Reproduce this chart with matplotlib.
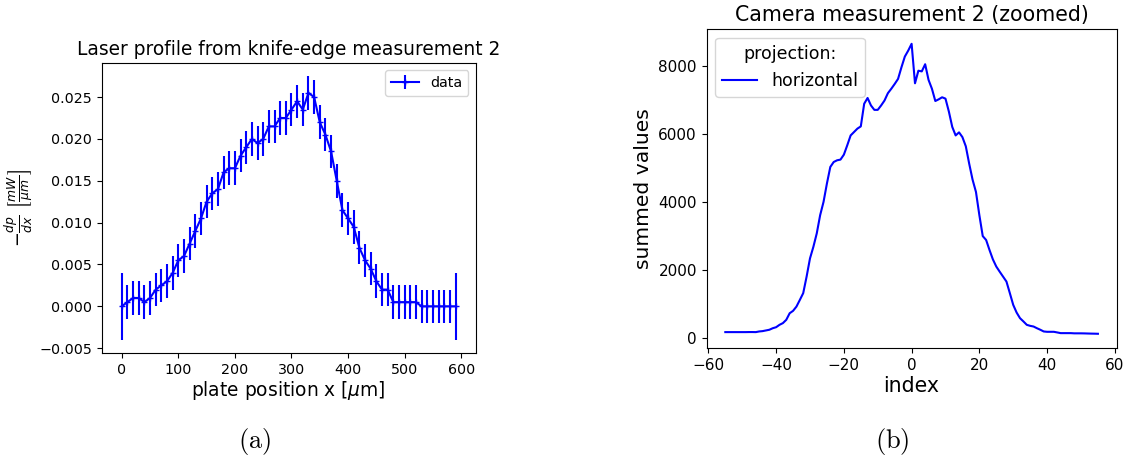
import matplotlib
matplotlib.use("Agg")
import matplotlib.pyplot as plt
import numpy as np

# Knife-edge derivative profile
plate_x = [0, 10, 20, 30, 40, 50, 60, 70, 80, 90,
           100, 110, 120, 130, 140, 150, 160, 170, 180, 190,
           200, 210, 220, 230, 240, 250, 260, 270, 280, 290,
           300, 310, 320, 330, 340, 350, 360, 370, 380, 390,
           400, 410, 420, 430, 440, 450, 460, 470, 480, 490,
           500, 510, 520, 530, 540, 550, 560, 570, 580, 590]
dpdx = [0.0, 0.0005, 0.001, 0.001, 0.0005, 0.001, 0.002, 0.0025, 0.003, 0.004,
        0.0055, 0.006, 0.0075, 0.009, 0.0105, 0.0125, 0.0135, 0.014, 0.016, 0.0165,
        0.0165, 0.018, 0.019, 0.02, 0.0195, 0.02, 0.0215, 0.0215, 0.0225, 0.0225,
        0.0235, 0.0245, 0.0235, 0.0255, 0.025, 0.022, 0.0205, 0.0185, 0.015, 0.0115,
        0.0105, 0.0095, 0.007, 0.0055, 0.0045, 0.003, 0.002, 0.002, 0.0005, 0.0005,
        0.0005, 0.0005, 0.0005, 0.0, 0.0, 0.0, 0.0, 0.0, 0.0, 0.0]
dpdx_err = [0.004] + [0.002] * 58 + [0.004]

# Camera projection (horizontal)
pixel_index = list(range(-55, 56))
summed = [176, 176, 176, 176, 176, 176, 176, 178, 178, 176,
          195, 205, 225, 245, 290, 320, 390, 440, 537, 730,
          800, 925, 1120, 1320, 1805, 2340, 2680, 3075, 3610, 4000,
          4540, 5025, 5170, 5220, 5240, 5385, 5660, 5950, 6050, 6150,
          6215, 6880, 7050, 6830, 6700, 6700, 6830, 6975, 7190, 7320,
          7460, 7610, 7950, 8265, 8440, 8640, 7480, 7850, 7830, 8040,
          7580, 7320, 6960, 7010, 7070, 7030, 6650, 6200, 5950, 6040,
          5900, 5630, 5120, 4650, 4290, 3610, 2995, 2880, 2585, 2310,
          2100, 1950, 1805, 1660, 1320, 975, 750, 585, 490, 390,
          360, 340, 290, 245, 195, 185, 185, 185, 166, 146,
          146, 146, 146, 140, 140, 140, 138, 135, 132, 130,
          127]

fig = plt.figure(figsize=(11.26, 4.57), dpi=100)

ax1 = fig.add_axes([0.0903, 0.2276, 0.3321, 0.6346])
ax1.errorbar(plate_x, dpdx, yerr=dpdx_err, fmt='-+', color='b',
             lw=1.5, elinewidth=1.5, markersize=5, label='data')
ax1.set_xlim(-35.5, 625.5)
ax1.set_title('Laser profile from knife-edge measurement 2', fontsize=13.4)
ax1.set_xlabel(r'plate position x [$\mu$m]', fontsize=13.4, labelpad=2)
ax1.set_ylabel(r'$-\frac{dp}{dx}\ \left[\frac{mW}{\mu m}\right]$', fontsize=12.8,
               labelpad=3)
ax1.tick_params(labelsize=10.3)
ax1.legend(loc='upper right', fontsize=10.3)

ax2 = fig.add_axes([0.6276, 0.2379, 0.364, 0.698])
ax2.plot(pixel_index, summed, color='b', lw=1.5, label='horizontal')
ax2.set_title('Camera measurement 2 (zoomed)', fontsize=14.8)
ax2.set_xlabel('index', fontsize=14.8, labelpad=2)
ax2.set_ylabel('summed values', fontsize=14.6)
ax2.tick_params(labelsize=11)
ax2.legend(loc='upper left', title='projection:', fontsize=12.5,
           title_fontsize=12.5)

fig.text(0.226, 0.035, r'$\mathrm{(a)}$', ha='center', va='center',
         fontsize=19, math_fontfamily='cm')
fig.text(0.792, 0.035, r'$\mathrm{(b)}$', ha='center', va='center',
         fontsize=19, math_fontfamily='cm')

fig.savefig('out.png', dpi=100)
